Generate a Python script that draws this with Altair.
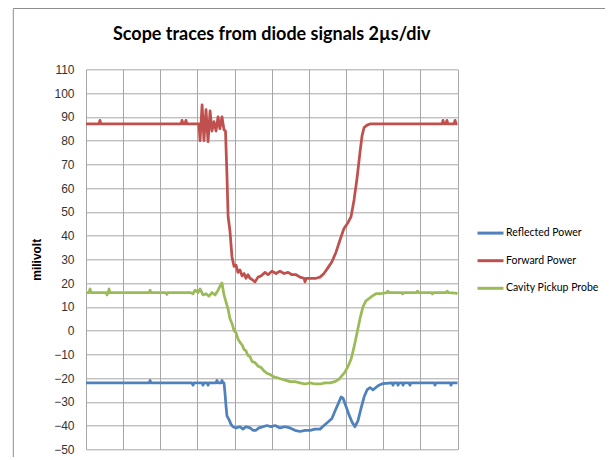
import altair as alt
import pandas as pd

# time in microseconds (2 µs/div, 10 divisions), values in millivolt
series_names = ["Reflected Power", "Forward Power", "Cavity Pickup Probe"]
series_colors = ["#4F81BD", "#C0504D", "#9BBB59"]

forward_t = [0, 0.70, 0.75, 0.80, 5.12, 5.17, 5.22, 5.33, 5.38, 5.43, 6.08, 6.14, 6.25, 6.35, 6.46,
             6.57, 6.68, 6.78, 6.89, 7.00, 7.11, 7.21, 7.32, 7.43, 7.51, 7.59, 7.65, 7.75, 7.86, 7.97,
             8.08, 8.18, 8.29, 8.40, 8.51, 8.61, 8.72, 8.83, 8.94, 9.10, 9.26, 9.42, 9.64, 9.80, 10.01,
             10.23, 10.44, 10.66, 10.88, 11.09, 11.31, 11.52, 11.74, 11.79, 11.85, 12.06, 12.38, 12.60,
             12.81, 13.03, 13.24, 13.46, 13.67, 13.89, 14.11, 14.27, 14.43, 14.59, 14.75, 14.86, 14.97,
             15.13, 15.29, 19.17, 19.22, 19.27, 19.38, 19.43, 19.48, 19.81, 19.87, 19.92, 20.0]
forward_v = [87, 87, 88.5, 87, 87, 88.5, 87, 87, 88.5, 87, 87, 80, 95, 80, 93,
             79.5, 92.5, 84, 88, 84, 90, 85, 90, 84.5, 84, 65, 48, 42, 31, 27,
             27.5, 24.5, 25.5, 23, 24, 22, 23.5, 22, 21.5, 20.5, 22.5, 23, 24.5, 23.5, 25,
             24, 25, 24, 24.5, 23.5, 23.5, 22.5, 22, 20.5, 22, 22, 22, 22.5,
             24, 26.5, 29, 33, 38, 43, 45.5, 48, 55, 64, 75, 82, 85.5,
             86.5, 87, 87, 88.5, 87, 87, 88.5, 87, 87, 88.5, 87, 87]

cavity_t = [0, 0.16, 0.22, 0.27, 1.08, 1.13, 1.19, 1.24, 1.29, 3.40, 3.45, 3.50, 4.30, 4.35, 4.40,
            5.60, 5.76, 5.87, 6.03, 6.14, 6.30, 6.46, 6.62, 6.78, 6.95, 7.11, 7.27, 7.32, 7.43, 7.54,
            7.65, 7.75, 7.86, 7.97, 8.08, 8.18, 8.29, 8.40, 8.51, 8.61, 8.72, 8.83, 8.94, 9.10, 9.26,
            9.42, 9.58, 9.74, 9.91, 10.12, 10.34, 10.55, 10.77, 10.98, 11.25, 11.52, 11.79, 12.06,
            12.33, 12.60, 12.87, 13.14, 13.40, 13.62, 13.78, 13.94, 14.11, 14.27, 14.43, 14.59, 14.75,
            14.91, 15.07, 15.24, 15.40, 15.61, 15.83, 16.20, 16.25, 16.30, 17.00, 17.05, 17.10, 17.80,
            17.85, 17.90, 18.60, 18.65, 18.70, 19.40, 19.45, 19.50, 19.90, 20.0]
cavity_v = [16, 16, 17.5, 16, 16, 15, 16, 17.5, 16, 16, 17, 16, 16, 15.2, 16,
            16, 15.5, 17, 16, 17.5, 15, 15.5, 14.5, 16, 15, 17, 19.5, 20, 15, 12,
            9, 5, 3, 0, -1, -3.5, -5, -6, -8, -8.5, -10.5, -11, -13, -13.5, -15,
            -15.5, -17, -18, -18.5, -19.5, -20, -20.5, -21, -21.5, -21.5, -22, -22.5, -22,
            -22.5, -22.5, -22, -22, -21.5, -20.5, -19, -17.5, -15, -12, -7, -1, 5,
            10, 12.5, 13.5, 14.5, 15.5, 15.5, 16, 16.6, 16, 16, 15.4, 16, 16,
            16.6, 16, 16, 15.4, 16, 16, 16.6, 16, 15.8, 15.5]

reflected_t = [0, 3.40, 3.45, 3.50, 5.70, 5.76, 5.82, 6.25, 6.30, 6.35, 6.52, 6.57, 6.62, 7.00, 7.05,
               7.11, 7.27, 7.32, 7.38, 7.43, 7.48, 7.54, 7.59, 7.70, 7.81, 7.91, 8.08, 8.29, 8.45,
               8.61, 8.83, 8.99, 9.15, 9.31, 9.53, 9.74, 9.96, 10.18, 10.44, 10.71, 10.98, 11.25,
               11.52, 11.79, 12.06, 12.33, 12.60, 12.81, 13.03, 13.24, 13.40, 13.57, 13.73, 13.84,
               14.00, 14.16, 14.32, 14.48, 14.64, 14.80, 14.97, 15.13, 15.29, 15.45, 15.61, 15.77,
               15.99, 16.48, 16.53, 16.58, 16.75, 16.80, 16.85, 17.02, 17.07, 17.12, 17.39, 17.44,
               17.49, 18.74, 18.79, 18.84, 19.60, 19.65, 19.70, 20.0]
reflected_v = [-22, -22, -21, -22, -22, -23, -22, -22, -23, -22, -22, -23, -22, -22, -21,
               -22, -22, -21, -22, -22, -26, -32, -36, -37.5, -39.5, -40.5, -41, -40.5, -41.5,
               -40.5, -41, -42, -42, -41, -40.5, -40, -40.5, -40, -41, -40.5, -41, -42,
               -42.5, -42, -42, -41.5, -41.5, -40, -38.5, -37, -34, -31, -28, -28.5,
               -32, -35.5, -38.5, -40.5, -38, -33, -28, -25, -24, -25, -24, -23,
               -22.3, -22, -23, -22, -22, -23, -22, -22, -23, -22, -22, -23,
               -22, -22, -23, -22, -22, -23, -22, -22]

y_ticks = list(range(-50, 111, 10))
x_ticks = list(range(0, 21, 2))

rows = []
for name, ts, vs in [("Reflected Power", reflected_t, reflected_v),
                     ("Forward Power", forward_t, forward_v),
                     ("Cavity Pickup Probe", cavity_t, cavity_v)]:
    for i, (t, v) in enumerate(zip(ts, vs)):
        rows.append({"series": name, "t": t, "v": v, "i": i})
df = pd.DataFrame(rows)

lines = alt.Chart(df).mark_line(strokeWidth=2.75, strokeJoin="round").encode(
    x=alt.X("t:Q", scale=alt.Scale(domain=[0, 20], nice=False, zero=False),
            axis=alt.Axis(values=x_ticks, labels=False, ticks=False, domain=False, grid=True, title=None)),
    y=alt.Y("v:Q", scale=alt.Scale(domain=[-50, 110], nice=False, zero=False),
            axis=alt.Axis(values=y_ticks, title="milivolt", ticks=False, tickSize=0, domain=False,
                          grid=True, labelPadding=12, titlePadding=10,
                          labelFont="Liberation Sans", labelFontSize=12, labelColor="#333333",
                          titleFont="Liberation Sans", titleFontSize=12, titleFontWeight="bold",
                          titleColor="#000000")),
    color=alt.Color("series:N", scale=alt.Scale(domain=series_names, range=series_colors),
                    legend=alt.Legend(title=None, orient="none", legendX=390, legendY=149.3,
                                      symbolType="stroke", symbolSize=676, symbolStrokeWidth=3,
                                      rowPadding=6.6, labelOffset=1, padding=0,
                                      labelFont="Lato", labelFontSize=10.5,
                                      labelColor="#000000")),
    detail="series:N",
    order=alt.Order("i:Q"),
)

frame = alt.Chart(pd.DataFrame({"a": [0]})).mark_rect(fillOpacity=0, stroke="#8c8c8c", strokeWidth=1).encode(
    x=alt.value(-72.7), x2=alt.value(700), y=alt.value(-60.8), y2=alt.value(600)
)

chart = alt.layer(frame, lines).properties(
    width=371.5, height=380,
    autosize=alt.AutoSizeParams(type="none"),
    padding={"left": 78, "top": 61.3, "right": 147, "bottom": 8},
    title=alt.TitleParams("Scope traces from diode signals 2µs/div", font="Lato",
                          fontSize=18, fontWeight="bold", color="#000000", anchor="middle",
                          frame="group", offset=18, dy=68, baseline="alphabetic"),
).configure_axis(
    gridColor="#a6a6a6", gridWidth=1, gridOpacity=1
).configure_view(strokeWidth=0)

chart.save("out.html", embed_options={"renderer": "svg", "actions": False})
